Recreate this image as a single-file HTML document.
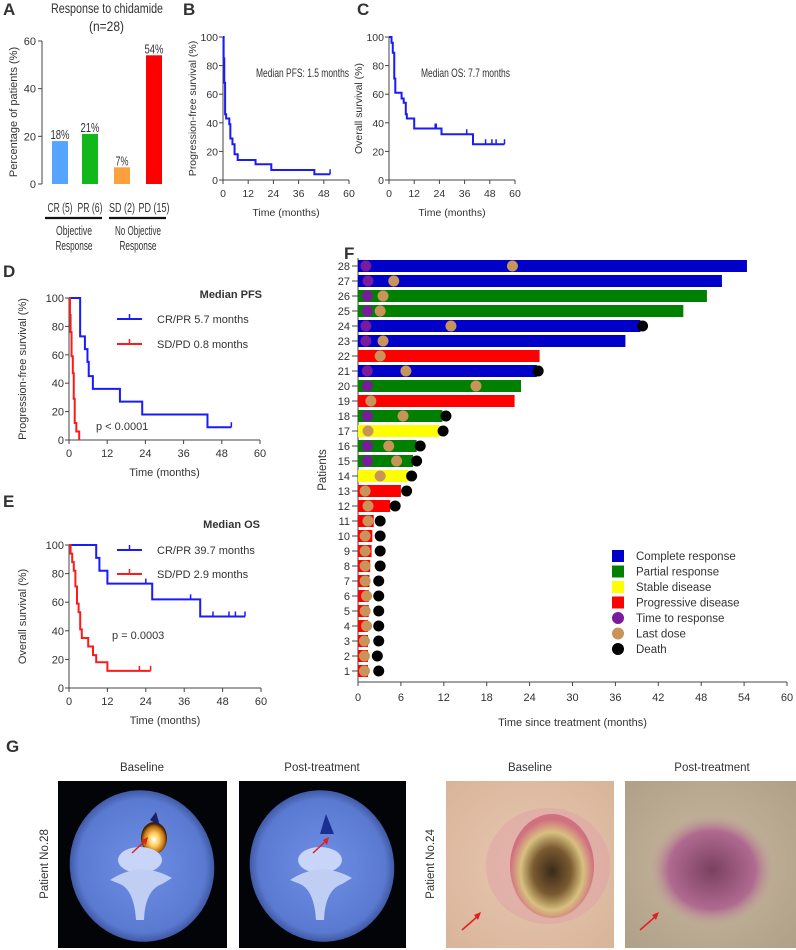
<!DOCTYPE html>
<html><head><meta charset="utf-8"><style>
body{margin:0;background:#fff}
svg{display:block;font-family:"Liberation Sans",Arial,sans-serif}
text{fill:#333}
</style></head><body>
<svg id="fig" width="796" height="950" viewBox="0 0 796 950" xmlns="http://www.w3.org/2000/svg">
<defs>
<radialGradient id="ctg" cx="50%" cy="50%" r="55%"><stop offset="0" stop-color="#6f8fe6"/><stop offset="0.8" stop-color="#5a79d0"/><stop offset="1" stop-color="#2a3f80"/></radialGradient>
<radialGradient id="hot" cx="50%" cy="55%" r="50%"><stop offset="0" stop-color="#fff"/><stop offset="0.4" stop-color="#ffd060"/><stop offset="0.8" stop-color="#c07010"/><stop offset="1" stop-color="#402000"/></radialGradient>
<radialGradient id="skin1" cx="50%" cy="50%" r="70%"><stop offset="0" stop-color="#e8c8b0"/><stop offset="1" stop-color="#d8b49a"/></radialGradient>
<radialGradient id="ulcer" cx="50%" cy="55%" r="50%"><stop offset="0" stop-color="#3a2a1a"/><stop offset="0.45" stop-color="#7a5a30"/><stop offset="0.75" stop-color="#d8c080"/><stop offset="1" stop-color="#d07080"/></radialGradient>
<radialGradient id="skin2" cx="50%" cy="50%" r="70%"><stop offset="0" stop-color="#c8b8a0"/><stop offset="1" stop-color="#b0a088"/></radialGradient>
<radialGradient id="bruise" cx="50%" cy="50%" r="50%"><stop offset="0" stop-color="#7a4060"/><stop offset="0.7" stop-color="#b06a90"/><stop offset="1" stop-color="#c09a98" stop-opacity="0"/></radialGradient>
</defs>
<g id="gA"></g>
<g id="gB"></g>
<g id="gC"></g>
<g id="gD"></g>
<g id="gE"></g>
<g id="gF"></g>
<g id="gG">
  <text x="6" y="752" font-size="17" font-weight="bold" fill="#111">G</text>
  <text x="142" y="771" font-size="11.5" text-anchor="middle">Baseline</text>
  <text x="322" y="771" font-size="11.5" text-anchor="middle">Post-treatment</text>
  <text x="530" y="771" font-size="11.5" text-anchor="middle">Baseline</text>
  <text x="712" y="771" font-size="11.5" text-anchor="middle">Post-treatment</text>
  <text transform="translate(48,864) rotate(-90)" font-size="11.5" text-anchor="middle">Patient No.28</text>
  <text transform="translate(434,864) rotate(-90)" font-size="11.5" text-anchor="middle">Patient No.24</text>
  <g>
    <rect x="58" y="781" width="169" height="167" fill="#020408"/>
    <ellipse cx="142" cy="866" rx="72" ry="76" fill="url(#ctg)" transform="rotate(-15 142 866)"/>
    <ellipse cx="154" cy="838" rx="13" ry="16" fill="url(#hot)"/>
    <path d="M150 820 L156 812 L160 826 Z" fill="#1a2060"/>
    <ellipse cx="140" cy="860" rx="22" ry="13" fill="#c8d4f8"/>
    <path d="M110 880 Q140 860 172 878 L162 884 Q145 890 144 920 L136 920 Q134 890 120 884 Z" fill="#c0cef4"/>
    <line x1="132" y1="853" x2="146" y2="840" stroke="#e02020" stroke-width="1.5"/>
    <polygon points="148,837 142,840 146,845" fill="#e02020"/>
  </g>
  <g>
    <rect x="239" y="781" width="167" height="167" fill="#020408"/>
    <ellipse cx="322" cy="866" rx="72" ry="76" fill="url(#ctg)" transform="rotate(-15 322 866)"/>
    <path d="M326 814 L320 834 L334 834 Z" fill="#1a3090"/>
    <ellipse cx="320" cy="860" rx="22" ry="13" fill="#c8d4f8"/>
    <path d="M290 880 Q320 860 352 878 L342 884 Q325 890 324 920 L316 920 Q314 890 300 884 Z" fill="#c0cef4"/>
    <line x1="313" y1="853" x2="327" y2="840" stroke="#e02020" stroke-width="1.5"/>
    <polygon points="329,837 323,840 327,845" fill="#e02020"/>
  </g>
  <g>
    <rect x="446" y="781" width="168" height="167" fill="url(#skin1)"/>
    <ellipse cx="548" cy="866" rx="62" ry="58" fill="#e0a0a8" opacity="0.5"/>
    <ellipse cx="552" cy="866" rx="42" ry="52" fill="url(#ulcer)"/>
    <line x1="462" y1="930" x2="478" y2="916" stroke="#e02020" stroke-width="1.5"/>
    <polygon points="481,912 474,915 478,920" fill="#e02020"/>
  </g>
  <g>
    <rect x="625" y="781" width="171" height="167" fill="url(#skin2)"/>
    <ellipse cx="712" cy="870" rx="62" ry="56" fill="url(#bruise)"/>
    <line x1="640" y1="930" x2="656" y2="916" stroke="#e02020" stroke-width="1.5"/>
    <polygon points="659,912 652,915 656,920" fill="#e02020"/>
  </g>
</g>
</svg>
<script>
// ---- Panel A data ----
const respCats = ["CR (5)","PR (6)","SD (2)","PD (15)"];
const respPct = [18,21,7,54];
const respLabels = ["18%","21%","7%","54%"];
const respColors = ["#55a4ff","#12b81a","#ffa040","#ff0000"];
const aTicks = [0,20,40,60];
// ---- Panel B/C data ----
const pfsT = [0,0.3,0.6,1,1.5,3,3.5,4.5,5.5,7,15.5,23,43.5];
const pfsS = [100,85,68,46,43,39,29,25,18,14,11,7,4];
const pfsEnd = 51; const pfsCens = [51];
const osT = [0,1.2,1.8,2.5,3,6,7,8,8.5,12,25,40];
const osS = [100,96,89,71,61,57,54,46,43,36,32,25];
const osEnd = 55; const osCens = [22,22.5,37,46,49,51,55];
// ---- Panel D data ----
const dCrT = [0,3.5,5,5.8,6.2,7.5,16,23,43.5];
const dCrS = [100,73,64,55,45,36,27,18,9];
const dCrEnd = 51; const dCrCens = [51];
const dSdT = [0,0.3,0.5,0.8,1.2,1.5,1.8,2.3,3.2];
const dSdS = [100,88,76,59,47,29,12,6,0];
const dSdEnd = 3.2; const dSdCens = [];
// ---- Panel E data ----
const eCrT = [0,8.5,9.5,12,26,41];
const eCrS = [100,91,82,73,62,50];
const eCrEnd = 55; const eCrCens = [24,38,45,50,52,55];
const eSdT = [0,0.5,1,1.5,2,2.5,3,3.5,4,6,7.5,8.5,12];
const eSdS = [100,94,88,82,71,59,53,41,35,29,23,18,12];
const eSdEnd = 25.5; const eSdCens = [22,25.5];
const kmXTicks = [0,12,24,36,48,60];
const kmYTicks = [0,20,40,60,80,100];
// ---- Panel F data (patients 1..28) ----
const fPatients = [1,2,3,4,5,6,7,8,9,10,11,12,13,14,15,16,17,18,19,20,21,22,23,24,25,26,27,28];
const fBarEnd = [1.4,1.4,1.4,1.4,1.5,1.5,1.6,1.7,1.9,2,2.2,4.5,6,7,7.7,8.2,11.4,11.8,21.9,22.8,25,25.4,37.4,39.5,45.5,48.8,50.9,54.4];
const fStatus = ["PD","PD","PD","PD","PD","PD","PD","PD","PD","PD","PD","PD","PD","SD","PR","PR","SD","PR","PD","PR","CR","PD","CR","CR","PR","PR","CR","CR"];
const fLastDose = [0.9,0.9,0.9,1.2,1.0,1.2,1.0,1.0,1.0,1.0,1.4,1.4,1.0,3.1,5.4,4.3,1.4,6.3,1.8,16.5,6.7,3.1,3.5,13.0,3.1,3.5,5.0,21.6];
const fResponse = [null,null,null,null,null,null,null,null,null,null,null,null,null,null,1.3,1.3,null,1.3,null,1.3,1.3,null,1.1,1.1,1.3,1.3,1.4,1.1];
const fDeath = [2.9,2.7,2.9,2.9,2.9,2.9,2.9,3.1,3.1,3.1,3.1,5.2,6.8,7.5,8.2,8.7,11.9,12.3,null,null,25.2,null,null,39.8,null,null,null,null];
const fXTicks = [0,6,12,18,24,30,36,42,48,54,60];
const fLegend = ["Complete response","Partial response","Stable disease","Progressive disease","Time to response","Last dose","Death"];

const NS="http://www.w3.org/2000/svg";
function mk(parent,tag,attrs,txt){const e=document.createElementNS(NS,tag);for(const k in attrs)e.setAttribute(k,attrs[k]);if(txt!==undefined)e.textContent=txt;parent.appendChild(e);return e;}
const AX="#444";

// ---------- Panel A ----------
(function(){
 const g=document.getElementById('gA');
 const x0=42,y0=184,y60=41;
 const ys=v=>y0-(v/60)*(y0-y60);
 const centers=[60,90,122,154];
 const labelW=[25,25,26,31];
 const valW=[19,19,13,19];
 let t=mk(g,'text',{x:3,y:15,'font-size':17,'font-weight':'bold',fill:'#111'},'A');
 
 t=mk(g,'text',{x:51,y:13,'font-size':14,textLength:112,lengthAdjust:'spacingAndGlyphs'},'Response to chidamide');
 
 t=mk(g,'text',{x:89,y:31,'font-size':14,textLength:35,lengthAdjust:'spacingAndGlyphs'},'(n=28)');
 
 t=mk(g,'text',{transform:'translate(17,112) rotate(-90)','font-size':11,'text-anchor':'middle'},'Percentage of patients (%)');
 
 let l=mk(g,'line',{x1:x0,y1:y60,x2:x0,y2:y0,stroke:AX,'stroke-width':1});
 
 aTicks.forEach(v=>{const y=ys(v);
  const tk=mk(g,'line',{x1:x0-4,y1:y,x2:x0,y2:y,stroke:AX});
  
  const tl=mk(g,'text',{x:x0-6,y:y+4,'font-size':11,'text-anchor':'end'},String(v));
  });
 respPct.forEach((v,i)=>{
  const r=mk(g,'rect',{x:centers[i]-8,y:ys(v),width:16,height:y0-ys(v),fill:respColors[i]});
  
  const vl=mk(g,'text',{x:centers[i]-valW[i]/2,y:ys(v)-2,'font-size':13,textLength:valW[i],lengthAdjust:'spacingAndGlyphs'},respLabels[i]);
  
  const cl=mk(g,'text',{x:centers[i]-labelW[i]/2,y:212,'font-size':12.5,textLength:labelW[i],lengthAdjust:'spacingAndGlyphs'},respCats[i]);
  
 });
 let b=mk(g,'line',{x1:45,y1:218,x2:102,y2:218,stroke:'#111','stroke-width':2.2});
 
 b=mk(g,'line',{x1:109,y1:218,x2:166,y2:218,stroke:'#111','stroke-width':2.2});
 
 [['Objective',74,235,36],['Response',74,250,37],['No Objective',138,235,46],['Response',138,250,37]].forEach(a=>{
  const tt=mk(g,'text',{x:a[1]-a[3]/2,y:a[2],'font-size':12.5,textLength:a[3],lengthAdjust:'spacingAndGlyphs'},a[0]);
  });
})();

// ---------- KM helper ----------
function km(g,cfg){
 const xs=v=>cfg.x0+(v/60)*(cfg.x60-cfg.x0);
 const ys=v=>cfg.y0-(v/100)*(cfg.y0-cfg.y100);
 let l=mk(g,'line',{x1:cfg.x0,y1:cfg.y100,x2:cfg.x0,y2:cfg.y0,stroke:AX});
 
 l=mk(g,'line',{x1:cfg.x0,y1:cfg.y0,x2:cfg.x60,y2:cfg.y0,stroke:AX});
 
 kmYTicks.forEach(v=>{const y=ys(v);
  const tk=mk(g,'line',{x1:cfg.x0-4,y1:y,x2:cfg.x0,y2:y,stroke:AX});
  
  const tl=mk(g,'text',{x:cfg.x0-5,y:y+4,'font-size':cfg.fs,'text-anchor':'end'},String(v));
  });
 kmXTicks.forEach(v=>{const x=xs(v);
  const tk=mk(g,'line',{x1:x,y1:cfg.y0,x2:x,y2:cfg.y0+4,stroke:AX});
  
  const tl=mk(g,'text',{x:x,y:cfg.y0+17,'font-size':cfg.fs,'text-anchor':'middle'},String(v));
  });
 let t=mk(g,'text',{x:(cfg.x0+cfg.x60)/2,y:cfg.y0+36,'font-size':cfg.fs,'text-anchor':'middle'},'Time (months)');
 
 t=mk(g,'text',{transform:`translate(${cfg.ytx},${(cfg.y0+cfg.y100)/2}) rotate(-90)`,'font-size':cfg.fs,'text-anchor':'middle'},cfg.ytitle);
 
 t=mk(g,'text',{x:cfg.lx,y:cfg.ly,'font-size':17,'font-weight':'bold',fill:'#111'},cfg.label);
 
 cfg.series.forEach(s=>{
  let d=`M${xs(s.t[0])},${ys(s.s[0])}`;
  for(let i=1;i<s.t.length;i++){d+=` H${xs(s.t[i])} V${ys(s.s[i])}`;}
  d+=` H${xs(s.end)}`;
  const p=mk(g,'path',{d:d,fill:'none',stroke:s.color,'stroke-width':2});
  
  s.cens.forEach(c=>{let v=s.s[0];for(let i=0;i<s.t.length;i++){if(s.t[i]<=c)v=s.s[i];}
   const cm=mk(g,'line',{x1:xs(c),y1:ys(v),x2:xs(c),y2:ys(v)-5,stroke:s.color,'stroke-width':1.5});
   });
 });
}
km(document.getElementById('gB'),{x0:223,x60:349,y0:180,y100:37,fs:10.5,ytx:196,ytitle:'Progression-free survival (%)',lx:183,ly:15,label:'B',
 series:[{t:pfsT,s:pfsS,end:pfsEnd,cens:pfsCens,color:'#1a1aff',name:'pfs-curve'}]});
km(document.getElementById('gC'),{x0:389,x60:515,y0:180,y100:37,fs:10.5,ytx:362,ytitle:'Overall survival (%)',lx:357,ly:15,label:'C',
 series:[{t:osT,s:osS,end:osEnd,cens:osCens,color:'#1a1aff',name:'os-curve'}]});
km(document.getElementById('gD'),{x0:69,x60:260,y0:440,y100:298,fs:11,ytx:26,ytitle:'Progression-free survival (%)',lx:3,ly:277,label:'D',
 series:[{t:dCrT,s:dCrS,end:dCrEnd,cens:dCrCens,color:'#1a1aff',name:'crpr-pfs-curve'},{t:dSdT,s:dSdS,end:dSdEnd,cens:dSdCens,color:'#ff1a1a',name:'sdpd-pfs-curve'}]});
km(document.getElementById('gE'),{x0:69,x60:261,y0:688,y100:545,fs:11,ytx:26,ytitle:'Overall survival (%)',lx:3,ly:507,label:'E',
 series:[{t:eCrT,s:eCrS,end:eCrEnd,cens:eCrCens,color:'#1a1aff',name:'crpr-os-curve'},{t:eSdT,s:eSdS,end:eSdEnd,cens:eSdCens,color:'#ff1a1a',name:'sdpd-os-curve'}]});
// annotations
(function(){
 const add=(id,x,y,txt,fs,bold,anchor,name,len)=>{const at={x:x,y:y,'font-size':fs,'font-weight':bold?'bold':'normal','text-anchor':anchor||'start'};
  if(len){at.textLength=len;at.lengthAdjust='spacingAndGlyphs';}
  const t=mk(document.getElementById(id),'text',at,txt);
  };
 add('gB',256,77,'Median PFS: 1.5 months',12,false,'start','median-pfs-annotation',93);
 add('gC',421,77,'Median OS: 7.7 months',12,false,'start','median-os-annotation',89);
 add('gD',262,298,'Median PFS',11,true,'end','legend-title');
 add('gD',157,323,'CR/PR 5.7 months',11,false,'start','legend-entry-crpr');
 add('gD',157,348,'SD/PD 0.8 months',11,false,'start','legend-entry-sdpd');
 add('gD',96,430,'p < 0.0001',11,false,'start','p-value');
 add('gE',260,528,'Median OS',11,true,'end','legend-title');
 add('gE',157,554,'CR/PR 39.7 months',11,false,'start','legend-entry-crpr');
 add('gE',157,578,'SD/PD 2.9 months',11,false,'start','legend-entry-sdpd');
 add('gE',112,639,'p = 0.0003',11,false,'start','p-value');
 [['gD',319,'#1a1aff'],['gD',344,'#ff1a1a'],['gE',550,'#1a1aff'],['gE',574,'#ff1a1a']].forEach(a=>{
  const g=document.getElementById(a[0]);
  const l=mk(g,'line',{x1:117,y1:a[1],x2:142,y2:a[1],stroke:a[2],'stroke-width':2});
  
  const c=mk(g,'line',{x1:129.5,y1:a[1],x2:129.5,y2:a[1]-5,stroke:a[2],'stroke-width':1.5});
  });
})();

// ---------- Panel F ----------
(function(){
 const g=document.getElementById('gF');
 const x0=358,x60=787,yAx=682,y1=671,y28=266;
 const xs=v=>x0+(v/60)*(x60-x0);
 const ys=p=>y1-(p-1)*(y1-y28)/27;
 const col={CR:'#0000c8',PR:'#008000',SD:'#ffff00',PD:'#ff0000'};
 let t=mk(g,'text',{x:344,y:259,'font-size':17,'font-weight':'bold',fill:'#111'},'F');
 
 t=mk(g,'text',{transform:'translate(326,470) rotate(-90)','font-size':11.5,'text-anchor':'middle'},'Patients');
 
 t=mk(g,'text',{x:(x0+x60)/2,y:726,'font-size':11,'text-anchor':'middle'},'Time since treatment (months)');
 
 let l=mk(g,'line',{x1:x0,y1:258,x2:x0,y2:yAx,stroke:AX});
 
 l=mk(g,'line',{x1:x0,y1:yAx,x2:x60,y2:yAx,stroke:AX});
 
 fXTicks.forEach(v=>{const x=xs(v);
  const tk=mk(g,'line',{x1:x,y1:yAx,x2:x,y2:yAx+4,stroke:AX});
  
  const tl=mk(g,'text',{x:x,y:yAx+19,'font-size':11,'text-anchor':'middle'},String(v));
  });
 fPatients.forEach((p,i)=>{
  const y=ys(p);
  const tk=mk(g,'line',{x1:x0-6,y1:y,x2:x0,y2:y,stroke:AX});
  
  const tl=mk(g,'text',{x:x0-8,y:y+4,'font-size':11,'text-anchor':'end'},String(p));
  
  const r=mk(g,'rect',{x:x0,y:y-6,width:xs(fBarEnd[i])-x0,height:12,fill:col[fStatus[i]]});
  
  if(fResponse[i]!==null){const c=mk(g,'circle',{cx:xs(fResponse[i]),cy:y,r:5.5,fill:'#7a1a9c'});
   }
  const c2=mk(g,'circle',{cx:xs(fLastDose[i]),cy:y,r:5.5,fill:'#c8945a'});
  
  if(fDeath[i]!==null){const c3=mk(g,'circle',{cx:xs(fDeath[i]),cy:y,r:5.5,fill:'#000'});
   }
 });
 const lc=['#0000c8','#008000','#ffff00','#ff0000','#7a1a9c','#c8945a','#000'];
 fLegend.forEach((s,i)=>{
  const y=556+i*15.5;
  let m;
  if(i<4){m=mk(g,'rect',{x:612,y:y-6,width:12,height:12,fill:lc[i]});}
  else{m=mk(g,'circle',{cx:618,cy:y,r:6,fill:lc[i]});}
  
  const tt=mk(g,'text',{x:636,y:y+4,'font-size':11.5},s);
  
 });
})();
</script>
</body></html>
